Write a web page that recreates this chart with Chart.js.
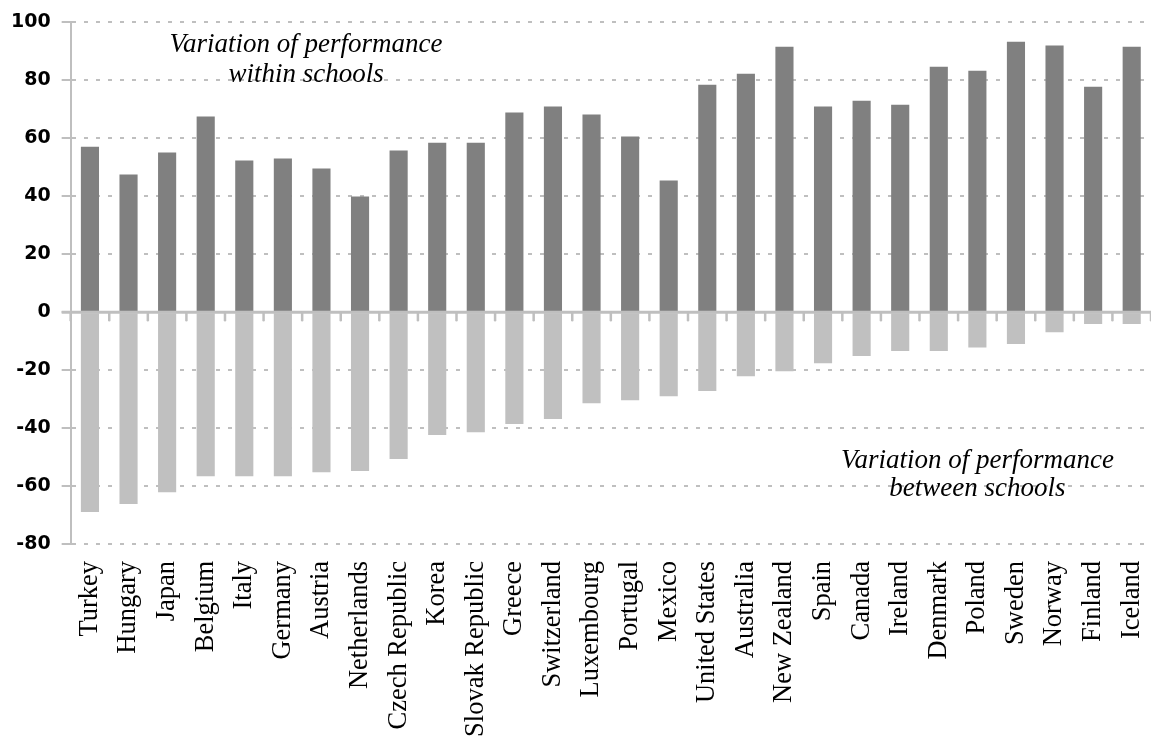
<!DOCTYPE html>
<html>
<head>
<meta charset="utf-8">
<script src="https://cdn.jsdelivr.net/npm/chart.js@4"></script>
<style>
html, body { margin: 0; padding: 0; background: #fff; }
#wrap { width: 1151px; height: 736px; }
</style>
</head>
<body>
<div id="wrap"><canvas id="schoolChart"></canvas></div>
<script>
var countries = ["Turkey", "Hungary", "Japan", "Belgium", "Italy", "Germany", "Austria",
  "Netherlands", "Czech Republic", "Korea", "Slovak Republic", "Greece", "Switzerland",
  "Luxembourg", "Portugal", "Mexico", "United States", "Australia", "New Zealand", "Spain",
  "Canada", "Ireland", "Denmark", "Poland", "Sweden", "Norway", "Finland", "Iceland"];

// variance within schools (positive part of each bar)
var withinSchools = [57.1, 47.5, 55.1, 67.5, 52.3, 53.0, 49.6, 39.9, 55.8, 58.5, 58.5, 68.9,
  71.0, 68.2, 60.6, 45.4, 78.5, 82.3, 91.6, 71.0, 73.0, 71.6, 84.7, 83.3, 93.3, 92.0, 77.8, 91.6];

// variance between schools (drawn downwards)
var betweenSchools = [-69.0, -66.2, -62.1, -56.6, -56.6, -56.6, -55.2, -54.8, -50.7, -42.4,
  -41.4, -38.6, -36.9, -31.4, -30.4, -29.0, -27.2, -22.1, -20.4, -17.6, -15.1, -13.4, -13.4,
  -12.2, -11.0, -6.9, -4.1, -4.1];

var yMin = -80, yMax = 100, yStep = 20;

var axisGray = '#bfbfbf';

// zero line with the little category ticks, plus the two captions
var schoolDecor = {
  id: 'schoolDecor',
  afterDatasetsDraw: function(chart) {
    var ctx = chart.ctx;
    var xs = chart.scales.x, ys = chart.scales.y;
    var area = chart.chartArea;
    var y0 = ys.getPixelForValue(0);
    var i, px;

    ctx.save();
    ctx.strokeStyle = axisGray;
    ctx.lineWidth = 3;
    ctx.beginPath();
    ctx.moveTo(area.left - 9, y0);
    ctx.lineTo(area.right, y0);
    ctx.stroke();

    ctx.lineWidth = 2.5;
    ctx.lineCap = 'round';
    for (i = 0; i <= countries.length; i++) {
      px = xs.getPixelForValue(i - 0.5);
      ctx.beginPath();
      ctx.moveTo(px, y0);
      ctx.lineTo(px, y0 + 8);
      ctx.stroke();
    }

    ctx.fillStyle = '#000';
    ctx.font = 'italic 27px "Liberation Serif"';
    ctx.textAlign = 'center';
    ctx.textBaseline = 'alphabetic';
    ctx.fillText('Variation of performance', xs.getPixelForValue(5.6), ys.getPixelForValue(89.9));
    ctx.fillText('within schools', xs.getPixelForValue(5.6), ys.getPixelForValue(79.6));
    ctx.fillText('Variation of performance', xs.getPixelForValue(23.0), ys.getPixelForValue(-53.7));
    ctx.fillText('between schools', xs.getPixelForValue(23.0), ys.getPixelForValue(-63.3));
    ctx.restore();
  }
};

var schoolChart = new Chart(document.getElementById('schoolChart'), {
  type: 'bar',
  data: {
    labels: countries,
    datasets: [
      {
        label: 'Within schools',
        data: withinSchools,
        backgroundColor: '#808080',
        barPercentage: 0.47,
        categoryPercentage: 1.0
      },
      {
        label: 'Between schools',
        data: betweenSchools,
        backgroundColor: '#c0c0c0',
        barPercentage: 0.47,
        categoryPercentage: 1.0
      }
    ]
  },
  options: {
    responsive: true,
    maintainAspectRatio: false,
    animation: false,
    layout: { padding: { left: 0, right: 0, top: 6, bottom: 0 } },
    plugins: {
      legend: { display: false },
      tooltip: { enabled: false }
    },
    scales: {
      x: {
        stacked: true,
        grid: { display: false, drawTicks: false },
        border: { display: false },
        ticks: {
          autoSkip: false,
          maxRotation: 90,
          minRotation: 90,
          padding: 17,
          color: '#000',
          font: { family: '"Liberation Serif"', size: 26.5 }
        },
        afterFit: function(scale) {
          scale.paddingLeft = 0;
          scale.paddingRight = 0;
          scale.height = 192;
        }
      },
      y: {
        stacked: true,
        min: yMin,
        max: yMax,
        ticks: {
          stepSize: yStep,
          padding: 11,
          color: '#000',
          font: { family: '"DejaVu Sans"', size: 19, weight: 'bold' }
        },
        grid: {
          color: function(c) { return c.tick && c.tick.value === 0 ? 'rgba(0,0,0,0)' : axisGray; },
          lineWidth: 2,
          tickLength: 9,
          tickColor: axisGray,
          tickWidth: 2
        },
        border: { display: true, color: axisGray, width: 2, dash: [4, 8] }
      }
    }
  },
  plugins: [schoolDecor]
});
</script>
</body>
</html>
